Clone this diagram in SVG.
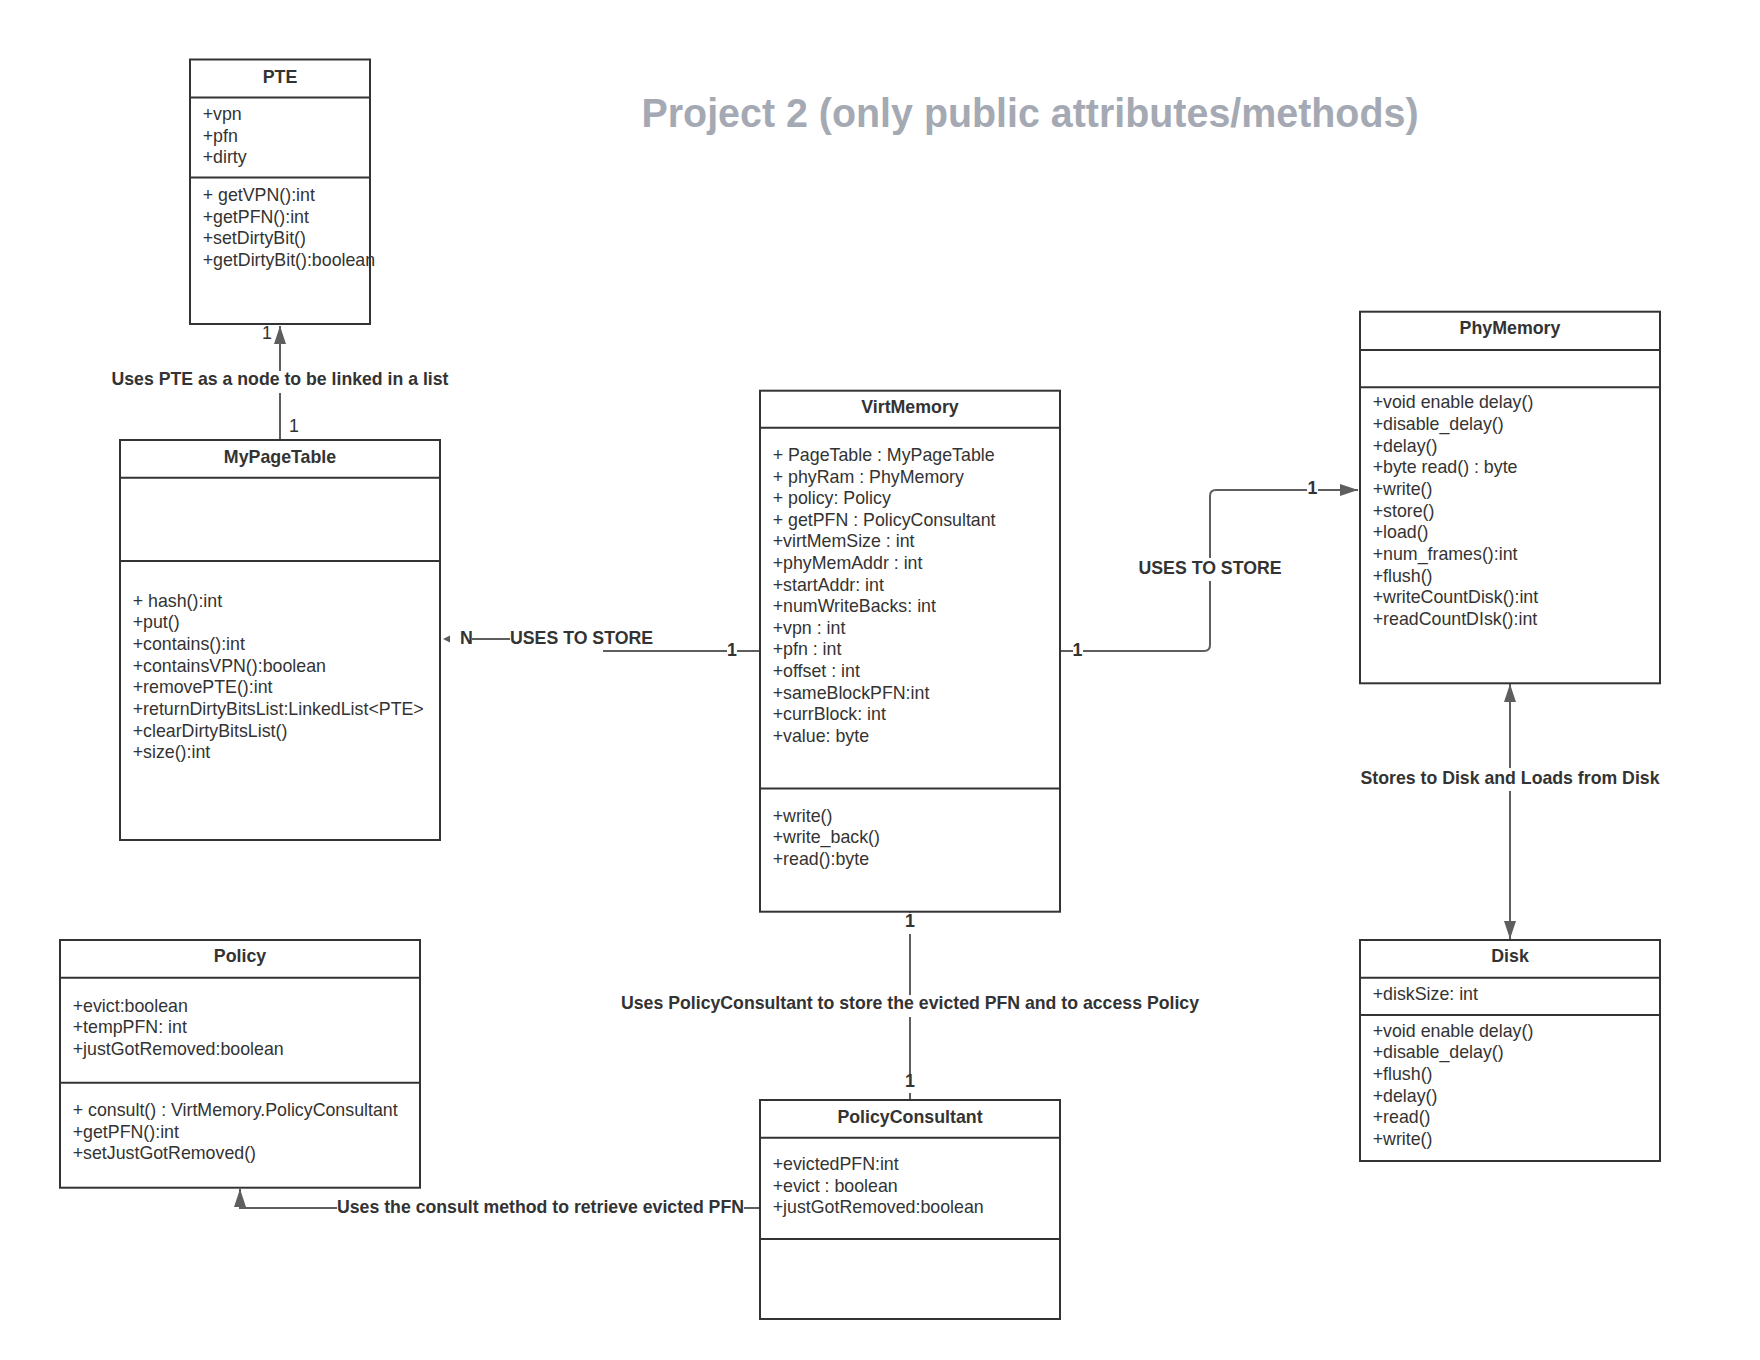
<svg xmlns="http://www.w3.org/2000/svg" width="1760" height="1360" viewBox="0 0 1760 1360">
<style>
.bg{fill:#ffffff}
.box{fill:#ffffff;stroke:#333333;stroke-width:2}
.sep{stroke:#333333;stroke-width:2}
.t{font-family:"Liberation Sans",Arial,sans-serif;font-size:17.8px;fill:#333333}
.h{font-weight:bold;text-anchor:middle}
.conn{fill:none;stroke:#5e5e5e;stroke-width:2}
.lbl{font-family:"Liberation Sans",Arial,sans-serif;font-size:17.8px;font-weight:bold;fill:#333333}
.mid{text-anchor:middle}
.wb{fill:#ffffff}
.title{font-family:"Liberation Sans",Arial,sans-serif;font-size:40px;font-weight:bold;fill:#a4a9b3;text-anchor:middle}
</style>
<defs>
<marker id="arr" markerUnits="userSpaceOnUse" markerWidth="18" markerHeight="12" refX="18" refY="6" orient="auto-start-reverse">
<path d="M0,0 L18,6 L0,12 Z" fill="#5e5e5e"/>
</marker>
</defs>
<rect class="bg" x="0" y="0" width="1760" height="1360"/>

<text class="title" x="1030" y="127" textLength="777" lengthAdjust="spacingAndGlyphs">Project 2 (only public attributes/methods)</text>

<g id="connectors">
  <path class="conn" d="M280,440 L280,326" marker-end="url(#arr)"/>
  <path class="conn" d="M760,651 L603,651"/>
  <path class="conn" d="M510,639 L472,639"/>
  <polygon points="443,639 450,635.5 450,642.5" fill="#5e5e5e"/>
  <path class="conn" d="M1060,651 L1204,651 Q1210,651 1210,645 L1210,496 Q1210,490 1216,490 L1358,490" marker-end="url(#arr)"/>
  <path class="conn" d="M1510,684 L1510,939" marker-start="url(#arr)" marker-end="url(#arr)"/>
  <path class="conn" d="M910,912 L910,1100"/>
  <path class="conn" d="M760,1208 L240,1208 L240,1189" marker-end="url(#arr)"/>
</g>

<g id="connector-labels">
  <rect class="wb" x="110" y="371" width="340" height="22"/>
  <text class="lbl mid" x="280" y="385" textLength="337" lengthAdjust="spacingAndGlyphs">Uses PTE as a node to be linked in a list</text>
  <text class="t" x="262" y="339">1</text>
  <text class="t" x="289" y="432">1</text>

  <text class="lbl" x="460" y="644">N</text>
  <text class="lbl" x="510" y="644" textLength="143" lengthAdjust="spacingAndGlyphs">USES TO STORE</text>
  <rect class="wb" x="727" y="642" width="10" height="15"/>
  <text class="lbl mid" x="732" y="656">1</text>

  <rect class="wb" x="1073" y="642" width="10" height="15"/>
  <text class="lbl mid" x="1077.5" y="656">1</text>
  <rect class="wb" x="1307" y="480" width="11" height="15"/>
  <text class="lbl mid" x="1312.5" y="494">1</text>
  <rect class="wb" x="1136" y="558" width="148" height="23"/>
  <text class="lbl mid" x="1210" y="574" textLength="143" lengthAdjust="spacingAndGlyphs">USES TO STORE</text>

  <rect class="wb" x="1358" y="768" width="304" height="23"/>
  <text class="lbl mid" x="1510" y="784" textLength="299" lengthAdjust="spacingAndGlyphs">Stores to Disk and Loads from Disk</text>

  <rect class="wb" x="900" y="913" width="20" height="21"/>
  <text class="lbl mid" x="910" y="927">1</text>
  <rect class="wb" x="617" y="995" width="586" height="22"/>
  <text class="lbl mid" x="910" y="1009" textLength="578" lengthAdjust="spacingAndGlyphs">Uses PolicyConsultant to store the evicted PFN and to access Policy</text>
  <rect class="wb" x="902" y="1076" width="16" height="17"/>
  <text class="lbl mid" x="910" y="1087">1</text>

  <rect class="wb" x="337" y="1196" width="407" height="22"/>
  <text class="lbl" x="337" y="1213" textLength="407" lengthAdjust="spacingAndGlyphs">Uses the consult method to retrieve evicted PFN</text>
</g>

<g id="PTE">
  <rect class="box" x="190" y="59.5" width="180" height="264.5"/>
  <line class="sep" x1="190" y1="97.6" x2="370" y2="97.6"/>
  <line class="sep" x1="190" y1="177.5" x2="370" y2="177.5"/>
  <text class="t h" x="280" y="82.7">PTE</text>
  <text class="t" x="202.7" y="120">+vpn<tspan x="202.7" dy="21.65">+pfn</tspan><tspan x="202.7" dy="21.65">+dirty</tspan></text>
  <text class="t" x="202.7" y="201">+ getVPN():int<tspan x="202.7" dy="21.65">+getPFN():int</tspan><tspan x="202.7" dy="21.65">+setDirtyBit()</tspan><tspan x="202.7" dy="21.65">+getDirtyBit():boolean</tspan></text>
</g>

<g id="MyPageTable">
  <rect class="box" x="120" y="440" width="320" height="400"/>
  <line class="sep" x1="120" y1="477.8" x2="440" y2="477.8"/>
  <line class="sep" x1="120" y1="561" x2="440" y2="561"/>
  <text class="t h" x="280" y="462.7">MyPageTable</text>
  <text class="t" x="132.7" y="606.7">+ hash():int<tspan x="132.7" dy="21.65">+put()</tspan><tspan x="132.7" dy="21.65">+contains():int</tspan><tspan x="132.7" dy="21.65">+containsVPN():boolean</tspan><tspan x="132.7" dy="21.65">+removePTE():int</tspan><tspan x="132.7" dy="21.65">+returnDirtyBitsList:LinkedList&lt;PTE&gt;</tspan><tspan x="132.7" dy="21.65">+clearDirtyBitsList()</tspan><tspan x="132.7" dy="21.65">+size():int</tspan></text>
</g>

<g id="VirtMemory">
  <rect class="box" x="760" y="390.7" width="300" height="521"/>
  <line class="sep" x1="760" y1="427.7" x2="1060" y2="427.7"/>
  <line class="sep" x1="760" y1="788.5" x2="1060" y2="788.5"/>
  <text class="t h" x="910" y="413.3">VirtMemory</text>
  <text class="t" x="772.7" y="461">+ PageTable : MyPageTable<tspan x="772.7" dy="21.6">+ phyRam : PhyMemory</tspan><tspan x="772.7" dy="21.6">+ policy: Policy</tspan><tspan x="772.7" dy="21.6">+ getPFN : PolicyConsultant</tspan><tspan x="772.7" dy="21.6">+virtMemSize : int</tspan><tspan x="772.7" dy="21.6">+phyMemAddr : int</tspan><tspan x="772.7" dy="21.6">+startAddr: int</tspan><tspan x="772.7" dy="21.6">+numWriteBacks: int</tspan><tspan x="772.7" dy="21.6">+vpn : int</tspan><tspan x="772.7" dy="21.6">+pfn : int</tspan><tspan x="772.7" dy="21.6">+offset : int</tspan><tspan x="772.7" dy="21.6">+sameBlockPFN:int</tspan><tspan x="772.7" dy="21.6">+currBlock: int</tspan><tspan x="772.7" dy="21.6">+value: byte</tspan></text>
  <text class="t" x="772.7" y="821.7">+write()<tspan x="772.7" dy="21.65">+write_back()</tspan><tspan x="772.7" dy="21.65">+read():byte</tspan></text>
</g>

<g id="PhyMemory">
  <rect class="box" x="1360" y="311.7" width="300" height="371.6"/>
  <line class="sep" x1="1360" y1="350" x2="1660" y2="350"/>
  <line class="sep" x1="1360" y1="387.3" x2="1660" y2="387.3"/>
  <text class="t h" x="1510" y="334.3">PhyMemory</text>
  <text class="t" x="1372.7" y="408.3">+void enable delay()<tspan x="1372.7" dy="21.67">+disable_delay()</tspan><tspan x="1372.7" dy="21.67">+delay()</tspan><tspan x="1372.7" dy="21.67">+byte read() : byte</tspan><tspan x="1372.7" dy="21.67">+write()</tspan><tspan x="1372.7" dy="21.67">+store()</tspan><tspan x="1372.7" dy="21.67">+load()</tspan><tspan x="1372.7" dy="21.67">+num_frames():int</tspan><tspan x="1372.7" dy="21.67">+flush()</tspan><tspan x="1372.7" dy="21.67">+writeCountDisk():int</tspan><tspan x="1372.7" dy="21.67">+readCountDIsk():int</tspan></text>
</g>

<g id="Disk">
  <rect class="box" x="1360" y="940" width="300" height="221"/>
  <line class="sep" x1="1360" y1="977.7" x2="1660" y2="977.7"/>
  <line class="sep" x1="1360" y1="1015" x2="1660" y2="1015"/>
  <text class="t h" x="1510" y="961.7">Disk</text>
  <text class="t" x="1372.7" y="1000">+diskSize: int</text>
  <text class="t" x="1372.7" y="1036.7">+void enable delay()<tspan x="1372.7" dy="21.6">+disable_delay()</tspan><tspan x="1372.7" dy="21.6">+flush()</tspan><tspan x="1372.7" dy="21.6">+delay()</tspan><tspan x="1372.7" dy="21.6">+read()</tspan><tspan x="1372.7" dy="21.6">+write()</tspan></text>
</g>

<g id="Policy">
  <rect class="box" x="60" y="940" width="360" height="247.7"/>
  <line class="sep" x1="60" y1="977.7" x2="420" y2="977.7"/>
  <line class="sep" x1="60" y1="1082.7" x2="420" y2="1082.7"/>
  <text class="t h" x="240" y="962.3">Policy</text>
  <text class="t" x="72.7" y="1011.7">+evict:boolean<tspan x="72.7" dy="21.65">+tempPFN: int</tspan><tspan x="72.7" dy="21.65">+justGotRemoved:boolean</tspan></text>
  <text class="t" x="72.7" y="1116">+ consult() : VirtMemory.PolicyConsultant<tspan x="72.7" dy="21.65">+getPFN():int</tspan><tspan x="72.7" dy="21.65">+setJustGotRemoved()</tspan></text>
</g>

<g id="PolicyConsultant">
  <rect class="box" x="760" y="1100" width="300" height="219"/>
  <line class="sep" x1="760" y1="1137.7" x2="1060" y2="1137.7"/>
  <line class="sep" x1="760" y1="1239" x2="1060" y2="1239"/>
  <text class="t h" x="910" y="1122.7">PolicyConsultant</text>
  <text class="t" x="772.7" y="1170">+evictedPFN:int<tspan x="772.7" dy="21.65">+evict : boolean</tspan><tspan x="772.7" dy="21.65">+justGotRemoved:boolean</tspan></text>
</g>
</svg>
